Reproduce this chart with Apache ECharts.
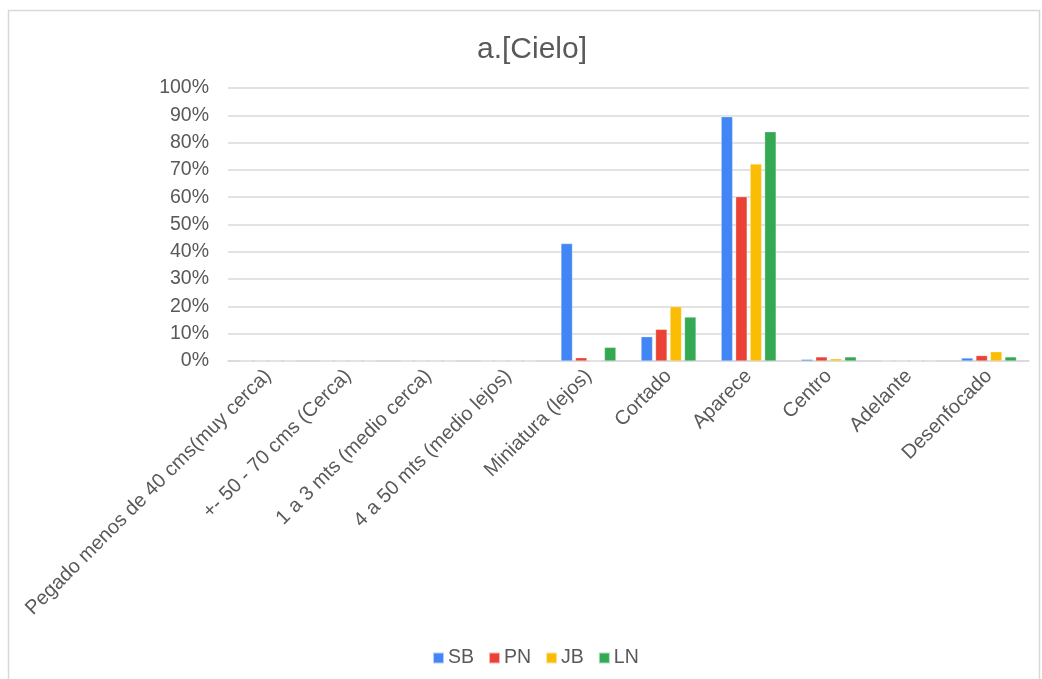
<!DOCTYPE html>
<html><head><meta charset="utf-8">
<script src="https://cdn.jsdelivr.net/npm/echarts@6/dist/echarts.min.js"></script>
<style>html,body{margin:0;padding:0;background:#fff}#c{width:1042px;height:679px}</style>
</head><body><div id="c"></div>
<script>
const categories = ['Pegado menos de 40 cms(muy cerca)','+- 50 - 70 cms (Cerca)','1 a 3 mts (medio cerca)','4 a 50 mts (medio lejos)','Miniatura (lejos)','Cortado','Aparece','Centro','Adelante','Desenfocado'];
const SB = [0,0,0,0,0.43,0.089,0.895,0.006,0,0.011];
const PN = [0,0,0,0,0.012,0.116,0.602,0.015,0,0.02];
const JB = [0,0,0,0,0,0.199,0.722,0.008,0,0.034];
const LN = [0,0,0,0,0.05,0.161,0.84,0.015,0,0.015];
const yTicks = [0,0.1,0.2,0.3,0.4,0.5,0.6,0.7,0.8,0.9,1.0];

const FONT = '"Liberation Sans", Arial, sans-serif';
const chart = echarts.init(document.getElementById('c'));
const mk = (name, data, color) => ({
  name, type:'bar', data, barWidth: 11.5, barGap:'26%',
  itemStyle:{color, borderColor:'rgba(255,255,255,0.6)', borderWidth:0.5}
});
chart.setOption({
  animation:false,
  title:{text:'a.[Cielo]', left:527, textAlign:'center', top:30,
    textStyle:{fontFamily:FONT, fontSize:30, fontWeight:'normal', color:'#595959'}},
  graphic:[{type:'rect', shape:{x:8.5,y:10.5,width:1031,height:700}, style:{fill:'none', stroke:'#d9d9d9', lineWidth:1.5}, silent:true}],
  legend:{top:643, left:427, itemWidth:11, itemHeight:11, itemGap:14, icon:'rect',
    textStyle:{fontFamily:FONT, fontSize:19.5, color:'#595959', padding:[0,0,0,-1]}},
  grid:{left:228, right:13, top:88, bottom:318, containLabel:false},
  xAxis:{type:'category', data:categories,
    axisLine:{lineStyle:{color:'#d9d9d9', width:1.5}}, axisTick:{show:false},
    axisLabel:{rotate:45, interval:0, margin:12, fontFamily:FONT, fontSize:20, color:'#595959'}},
  yAxis:{type:'value', min:0, max:1, interval:0.1,
    axisLine:{show:false}, axisTick:{show:false},
    splitLine:{lineStyle:{color:'#d9d9d9', width:1.5}},
    axisLabel:{margin:19, fontFamily:FONT, fontSize:19.5, color:'#595959',
      formatter: v => { const t = yTicks.find(x => Math.abs(x - v) < 1e-9); return Math.round((t ?? v)*100) + '%'; }}},
  series:[mk('SB',SB,'#4285F4'), mk('PN',PN,'#EA4335'), mk('JB',JB,'#FBBC04'), mk('LN',LN,'#34A853')]
});
</script></body></html>
